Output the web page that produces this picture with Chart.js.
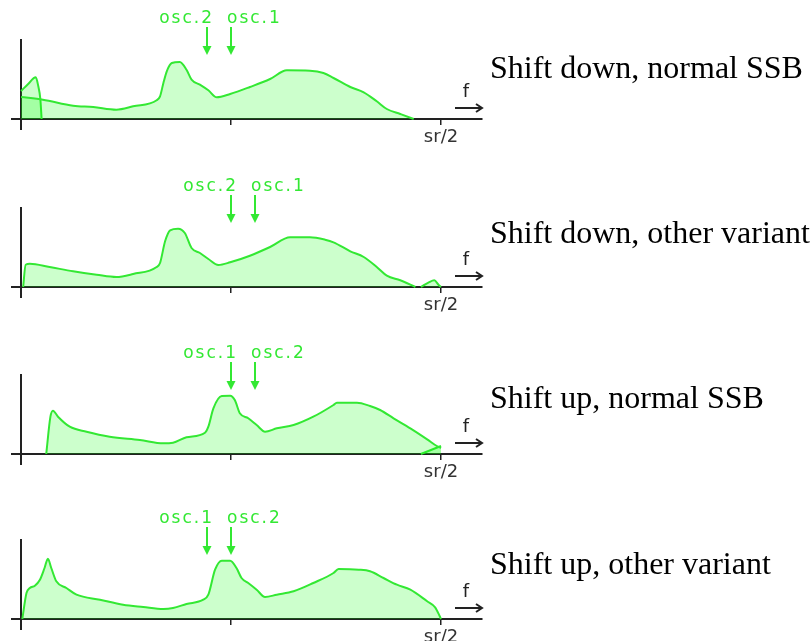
<!DOCTYPE html>
<html>
<head>
<meta charset="utf-8">
<script src="https://cdn.jsdelivr.net/npm/chart.js@4.4.1/dist/chart.umd.min.js"></script>
<style>
html, body { margin: 0; padding: 0; background: #fff; overflow: hidden; }
.panel { position: absolute; left: 0; }
.caption { position: absolute; left: 490px; font: 32px/32px "Liberation Serif", "Times New Roman", serif; color: #000; white-space: nowrap; }
</style>
</head>
<body>
<canvas id="c1" class="panel" width="810" height="138" style="top:7px"></canvas>
<canvas id="c2" class="panel" width="810" height="138" style="top:175px"></canvas>
<canvas id="c3" class="panel" width="810" height="138" style="top:342px"></canvas>
<canvas id="c4" class="panel" width="810" height="138" style="top:507px"></canvas>
<div class="caption" style="top:51px">Shift down, normal SSB</div>
<div class="caption" style="top:216px">Shift down, other variant</div>
<div class="caption" style="top:381px">Shift up, normal SSB</div>
<div class="caption" style="top:547px">Shift up, other variant</div>
<script>
// frequency axis: 0 .. sr/2 = 1
var xTicks = [0.5, 1];
var xTickLabels = ['', 'sr/2'];

// shift down, normal SSB
var downSsbFreq  = [0, 0.052, 0.124, 0.172, 0.227, 0.267, 0.323, 0.331, 0.339, 0.347, 0.359, 0.378, 0.394, 0.406, 0.426, 0.446, 0.466, 0.498, 0.545, 0.593, 0.633, 0.688, 0.720, 0.744, 0.784, 0.816, 0.847, 0.871, 0.903, 0.935];
var downSsbLevel = [22, 19.3, 13.3, 12, 9.3, 12.7, 18.7, 22.7, 36, 47.7, 56, 57, 49.3, 39.3, 34.3, 28.7, 21.7, 25, 32, 40, 48.7, 48.3, 46, 41, 32, 26.7, 17.7, 10, 5, 0];
var downSsbFoldFreq  = [0, 0.017, 0.035, 0.041, 0.046, 0.049];
var downSsbFoldLevel = [28, 35, 41.7, 33, 20, 0];

// shift down, other variant
var downAltFreq  = [0.005, 0.011, 0.021, 0.068, 0.124, 0.180, 0.227, 0.267, 0.323, 0.331, 0.343, 0.355, 0.374, 0.390, 0.406, 0.426, 0.446, 0.470, 0.498, 0.545, 0.593, 0.641, 0.688, 0.724, 0.744, 0.784, 0.816, 0.847, 0.871, 0.903, 0.939];
var downAltLevel = [0, 22.3, 23.3, 20, 15.7, 12.3, 10, 13, 20, 24, 45.7, 56.7, 58.3, 54, 39, 34, 28, 22, 24.7, 31.3, 40, 49.7, 49.7, 47.3, 44.7, 35.7, 30, 20, 11.3, 6.7, 0];
var downAltWrapFreq  = [0.952, 0.971, 0.984, 0.994, 1.0];
var downAltWrapLevel = [0, 4.7, 6.7, 2.3, 0];

// shift up, normal SSB
var upSsbFreq  = [0.060, 0.070, 0.076, 0.088, 0.116, 0.156, 0.211, 0.283, 0.339, 0.362, 0.394, 0.438, 0.446, 0.458, 0.478, 0.498, 0.509, 0.521, 0.541, 0.561, 0.581, 0.609, 0.649, 0.696, 0.744, 0.752, 0.800, 0.831, 0.855, 0.887, 0.927, 0.967, 0.990, 1.0];
var upSsbLevel = [0, 37.3, 43.3, 37.3, 27.3, 22.3, 17.3, 14, 10.7, 11.3, 16.7, 21.3, 27.3, 45.7, 58, 58.3, 54, 40.7, 35.7, 29, 22.3, 25.7, 29, 37.3, 49, 51.3, 51.3, 48, 44, 35.7, 25.7, 14.7, 8, 6];
var upSsbFoldFreq  = [0.952, 1.0];
var upSsbFoldLevel = [0, 8];

// shift up, other variant
var upAltFreq  = [0.003, 0.013, 0.021, 0.033, 0.045, 0.056, 0.064, 0.072, 0.084, 0.108, 0.132, 0.188, 0.243, 0.291, 0.339, 0.362, 0.394, 0.434, 0.446, 0.462, 0.478, 0.498, 0.513, 0.525, 0.541, 0.561, 0.581, 0.609, 0.649, 0.696, 0.744, 0.756, 0.804, 0.831, 0.863, 0.895, 0.927, 0.967, 0.986, 0.997, 1.0];
var upAltLevel = [0, 26, 31, 33.3, 39.3, 51, 60.3, 51, 37.7, 31, 24.3, 19.3, 14.3, 12, 10, 11, 15, 19.3, 24.3, 49.3, 58.3, 58.3, 51, 41, 36, 29.3, 22, 24.3, 27.7, 36, 46, 50, 49.3, 47.7, 41, 34.3, 29.3, 17.7, 11.7, 2.7, 0];

// oscillator markers (left, right)
var downOscFreq = [[0.443, 0.5], [0.5, 0.557]];
var upOscFreq   = [[0.5, 0.557], [0.443, 0.5]];
var downOscNames = ['osc.2', 'osc.1'];
var upOscNames   = ['osc.1', 'osc.2'];

var lineGreen = '#33e833';
var fillGreen = 'rgba(0, 255, 0, 0.2)';
var axisColor = '#222';

var oscMarks = {
  id: 'oscMarks',
  afterDraw: function(chart, args, opts) {
    var ctx = chart.ctx, xs = chart.scales.x, ys = chart.scales.y;
    var base = ys.getPixelForValue(0);
    ctx.save();
    ctx.fillStyle = lineGreen;
    ctx.strokeStyle = lineGreen;
    ctx.font = '17px "DejaVu Sans"';
    ctx.letterSpacing = '2px';
    opts.freqs.forEach(function(f, i) {
      var px = Math.round(xs.getPixelForValue(f));
      ctx.lineWidth = 2;
      ctx.beginPath(); ctx.moveTo(px, base - 92); ctx.lineTo(px, base - 70); ctx.stroke();
      ctx.beginPath(); ctx.moveTo(px - 4.5, base - 73); ctx.lineTo(px + 4.5, base - 73); ctx.lineTo(px, base - 64); ctx.closePath(); ctx.fill();
      ctx.textAlign = i === 0 ? 'right' : 'left';
      ctx.fillText(opts.names[i], i === 0 ? px + 7 : px - 4, base - 96);
    });
    // f ->
    var right = chart.chartArea.right;
    ctx.letterSpacing = '0px';
    ctx.fillStyle = axisColor;
    ctx.strokeStyle = axisColor;
    ctx.textAlign = 'center';
    ctx.font = '18px "DejaVu Sans"';
    ctx.fillText('f', right - 16, base - 22);
    ctx.lineWidth = 2;
    ctx.beginPath();
    ctx.moveTo(right - 27, base - 11); ctx.lineTo(right, base - 11);
    ctx.moveTo(right - 6, base - 15); ctx.lineTo(right, base - 11); ctx.lineTo(right - 6, base - 7);
    ctx.stroke();
    ctx.restore();
  }
};

function makePanel(id, series, oscFreq, oscNames) {
  var datasets = series.map(function(s) {
    return {
      data: s[0].map(function(f, i) { return {x: f, y: s[1][i]}; }),
      borderColor: lineGreen,
      borderWidth: 2,
      backgroundColor: fillGreen,
      fill: 'origin',
      pointRadius: 0,
      cubicInterpolationMode: 'monotone'
    };
  });
  new Chart(document.getElementById(id).getContext('2d'), {
    type: 'line',
    data: {datasets: datasets},
    options: {
      responsive: false,
      animation: false,
      layout: {autoPadding: false, padding: {left: 12, right: 328, top: 33, bottom: 16}},
      plugins: {
        legend: {display: false},
        tooltip: {enabled: false},
        oscMarks: {freqs: oscFreq, names: oscNames}
      },
      scales: {
        x: {
          type: 'linear', min: -0.0215, max: 1.0976, position: {y: 0}, z: 1,
          afterBuildTicks: function(s) { s.ticks = xTicks.map(function(v) { return {value: v}; }); },
          ticks: {
            autoSkip: false, maxRotation: 0, padding: 3, color: '#333',
            font: {family: 'DejaVu Sans', size: 18},
            callback: function(v) { return xTickLabels[xTicks.indexOf(v)]; }
          },
          grid: {drawOnChartArea: false, drawTicks: true, tickLength: 5, color: axisColor, lineWidth: 1.5},
          border: {display: true, color: axisColor, width: 2}
        },
        y: {
          type: 'linear', min: -10, max: 79, position: {x: 0}, z: 1,
          ticks: {display: false},
          grid: {drawOnChartArea: false, drawTicks: false},
          border: {display: true, color: axisColor, width: 2}
        }
      }
    },
    plugins: [oscMarks]
  });
}

makePanel('c1', [[downSsbFreq, downSsbLevel], [downSsbFoldFreq, downSsbFoldLevel]], downOscFreq[0], downOscNames);
makePanel('c2', [[downAltFreq, downAltLevel], [downAltWrapFreq, downAltWrapLevel]], downOscFreq[1], downOscNames);
makePanel('c3', [[upSsbFreq, upSsbLevel], [upSsbFoldFreq, upSsbFoldLevel]], upOscFreq[0], upOscNames);
makePanel('c4', [[upAltFreq, upAltLevel]], upOscFreq[1], upOscNames);
</script>
</body>
</html>
